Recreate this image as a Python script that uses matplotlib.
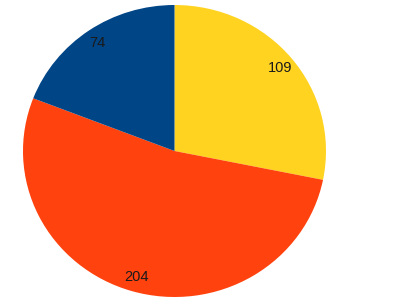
import matplotlib
matplotlib.use('Agg')
import matplotlib.pyplot as plt

# 数据（顺时针，从 12 点方向开始）
values = [109, 204, 74]
labels = ['109', '204', '74']
colors = ['#FFD320', '#FF420E', '#004586']

plt.rcParams['font.family'] = ['Liberation Sans', 'DejaVu Sans']

fig = plt.figure(figsize=(3.93, 2.98), dpi=100)
ax = fig.add_axes([23 / 393, 1 / 298, 303 / 393, 292 / 298])

wedges, texts = ax.pie(
    values,
    labels=labels,
    colors=colors,
    startangle=90,
    counterclock=False,
    labeldistance=0.9,
    wedgeprops={'linewidth': 0},
    textprops={'fontsize': 10.5, 'color': '#1a1a1a',
               'ha': 'center', 'va': 'center'},
)
for t in texts:
    t.set_ha('center')
    t.set_va('center')

ax.set_aspect('auto')
ax.set_xlim(-1, 1)
ax.set_ylim(-1, 1)
ax.axis('off')

fig.savefig('out.png', dpi=100)
